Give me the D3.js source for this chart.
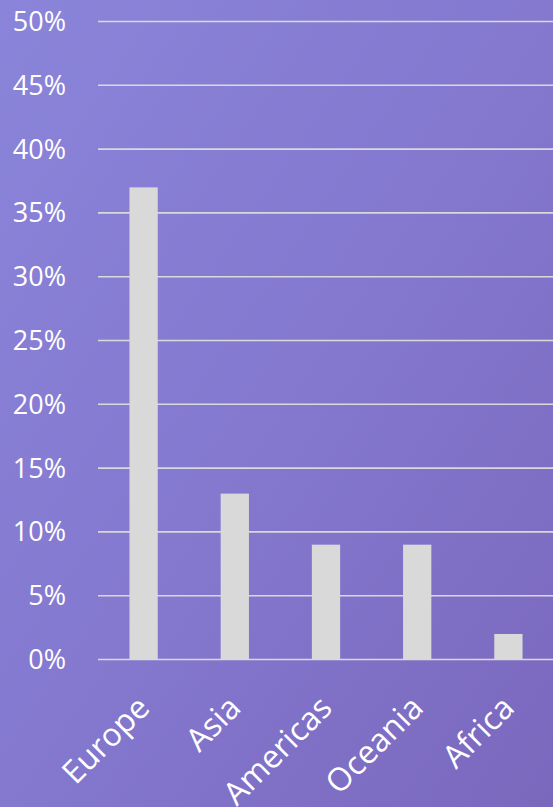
<!DOCTYPE html>
<html><head><meta charset="utf-8">
<script src="https://cdn.jsdelivr.net/npm/d3@7"></script>
<style>html,body{margin:0;padding:0;overflow:hidden;}</style>
</head><body>
<svg id="c" width="553" height="807"></svg>
<script>
const categories = ["Europe", "Asia", "Americas", "Oceania", "Africa"];
const values = [0.37, 0.13, 0.09, 0.09, 0.02];
const yTicks = [0, 0.05, 0.10, 0.15, 0.20, 0.25, 0.30, 0.35, 0.40, 0.45, 0.50];

const svg = d3.select("#c");
const W = 553, H = 807;
const defs = svg.append("defs");
const g0 = defs.append("linearGradient").attr("id","bg").attr("x1","0").attr("y1","0").attr("x2","1").attr("y2","1");
g0.append("stop").attr("offset","0").attr("stop-color","#8a85da");
g0.append("stop").attr("offset","0.5").attr("stop-color","#8478cf");
g0.append("stop").attr("offset","1").attr("stop-color","#7a68bd");
svg.append("rect").attr("width",W).attr("height",H).attr("fill","url(#bg)");

const x = d3.scaleBand().domain(categories).range([98, 554]).paddingInner(0.69).paddingOuter(0.345);
const y = d3.scaleLinear().domain([0, 0.5]).range([659.5, 21.5]);

const grid = svg.append("g");
grid.selectAll("line").data(yTicks).join("line")
  .attr("x1", 98).attr("x2", W)
  .attr("y1", d => y(d)).attr("y2", d => y(d))
  .attr("stroke", "#d9d9d9").attr("stroke-width", 1.6);

svg.append("g").selectAll("rect").data(values).join("rect")
  .attr("x", (d,i) => x(categories[i]))
  .attr("width", x.bandwidth())
  .attr("y", d => y(d))
  .attr("height", d => y(0) - y(d))
  .attr("fill", "#d9d9d9");

const fmt = d3.format(".0%");
svg.append("g").selectAll("text").data(yTicks).join("text")
  .attr("x", 66).attr("y", d => y(d))
  .attr("dy", "0.35em")
  .attr("text-anchor", "end")
  .attr("fill", "#ffffff")
  .style("font-family", "'Open Sans', sans-serif")
  .style("font-size", "27px")
  .text(d => fmt(d));

svg.append("g").selectAll("text").data(categories).join("text")
  .attr("transform", d => `translate(${x(d) + x.bandwidth()/2 + 1},${703}) rotate(-45)`)
  .attr("text-anchor", "end")
  .attr("dy", "0.3em")
  .attr("fill", "#ffffff")
  .style("font-family", "'Open Sans', sans-serif")
  .style("font-size", "32px")
  .text(d => d);
</script>
</body></html>
